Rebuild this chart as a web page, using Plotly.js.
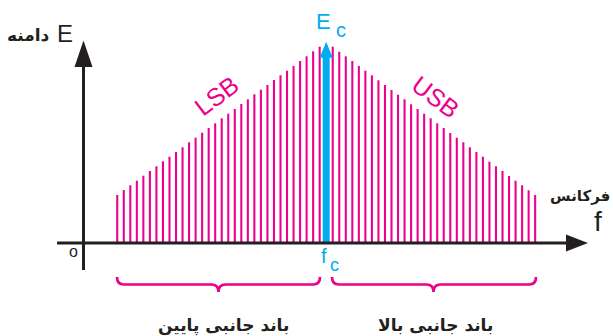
<!DOCTYPE html>
<html>
<head>
<meta charset="utf-8">
<script src="https://cdn.plot.ly/plotly-3.0.1.min.js"></script>
<style>
  html, body { margin: 0; padding: 0; background: #ffffff; }
  #chart { width: 613px; height: 336px; }
</style>
</head>
<body>
<div id="chart"></div>
<script>
// ---- data (frequency offset from the carrier, amplitude) ----
const lsbFreq = [-32,-31,-30,-29,-28,-27,-26,-25,-24,-23,-22,-21,-20,-19,-18,-17,-16,-15,-14,-13,-12,-11,-10,-9,-8,-7,-6,-5,-4,-3,-2,-1];
const lsbAmp = [48, 53, 57.7, 62.3, 67.3, 72, 76.7, 81.7, 86.3, 91, 95.7, 100.7, 105.3, 110.3, 115, 119.7, 124.7, 129.3, 134, 139, 143.7, 148.7, 153.3, 158, 163, 167.7, 172.3, 177, 182, 186.7, 191.7, 196.3];
const usbFreq = [1,2,3,4,5,6,7,8,9,10,11,12,13,14,15,16,17,18,19,20,21,22,23,24,25,26,27,28,29,30,31,32];
const usbAmp = [196.3, 191.3, 186.7, 182, 177, 172.3, 167.7, 162.7, 158, 153, 148.3, 143.7, 138.7, 134, 129.3, 124.7, 119.7, 115, 110, 105.3, 100.7, 95.7, 91, 86.3, 81.3, 76.7, 72, 67, 62.3, 57.7, 52.7, 48];
const carrierFreq = [0];
const carrierAmp = [201.3];

// ---- labels ----
const yLabel = "E";
const yLabelFa = "دامنه";
const xLabel = "f";
const xLabelFa = "فرکانس";
const lsbLabel = "LSB";
const usbLabel = "USB";
const lowerBandFa = "باند جانبی پایین";
const upperBandFa = "باند جانبی بالا";
const originLabel = "o";

// ---- styling ----
const PINK = "#ec008c";
const BLUE = "#00aeef";
const INK = "#231f20";
const W = 613, H = 336;
const px = x => x / W;
const py = y => 1 - y / H;
const LAT = "Liberation Sans, Arial, sans-serif";
const FA = "DejaVu Sans, sans-serif";

const headLen = 16;   // px (y units are px here)
const headHalf = 1.0; // x units

const traces = [
  { type: "bar", x: lsbFreq, y: lsbAmp, width: 0.32, marker: { color: PINK, line: { width: 0 } }, hoverinfo: "skip" },
  { type: "bar", x: usbFreq, y: usbAmp, width: 0.32, marker: { color: PINK, line: { width: 0 } }, hoverinfo: "skip" },
  { type: "bar", x: carrierFreq, y: carrierAmp.map(v => v - headLen + 2), width: 1.07, marker: { color: BLUE, line: { width: 0 } }, hoverinfo: "skip" }
];

function ann(text, x, y, size, color, family, extra) {
  return Object.assign({
    text: text, x: px(x), y: py(y), xref: "paper", yref: "paper",
    showarrow: false, xanchor: "center", yanchor: "middle",
    font: { size: size, color: color, family: family }
  }, extra || {});
}

function brace(x0, x1, xc, yTop, yMid, yBot) {
  const r = 7;
  const P = (x, y) => px(x) + "," + py(y);
  return "M" + P(x0, yTop) +
    " Q" + P(x0, yMid) + " " + P(x0 + r, yMid) +
    " L" + P(xc - r, yMid) +
    " Q" + P(xc, yMid) + " " + P(xc, yBot) +
    " Q" + P(xc, yMid) + " " + P(xc + r, yMid) +
    " L" + P(x1 - r, yMid) +
    " Q" + P(x1, yMid) + " " + P(x1, yTop);
}

const shapes = [
  // y axis with arrow
  { type: "line", xref: "paper", yref: "paper", x0: px(83.5), x1: px(83.5), y0: py(270), y1: py(62), line: { color: INK, width: 3 } },
  { type: "path", xref: "paper", yref: "paper", path: "M" + px(74.5) + "," + py(67) + " L" + px(92.5) + "," + py(67) + " L" + px(83.5) + "," + py(40.5) + " Z", fillcolor: INK, line: { width: 0 } },
  // x axis with arrow
  { type: "line", xref: "paper", yref: "paper", x0: px(57), x1: px(570), y0: py(243), y1: py(243), line: { color: INK, width: 3 } },
  { type: "path", xref: "paper", yref: "paper", path: "M" + px(566) + "," + py(234.5) + " L" + px(566) + "," + py(251.5) + " L" + px(588) + "," + py(243) + " Z", fillcolor: INK, line: { width: 0 } },
  // carrier arrowhead (from the carrier value)
  { type: "path", xref: "x", yref: "y", path: "M" + (carrierFreq[0] - headHalf) + "," + (carrierAmp[0] - headLen) + " L" + (carrierFreq[0] + headHalf) + "," + (carrierAmp[0] - headLen) + " L" + carrierFreq[0] + "," + carrierAmp[0] + " Z", fillcolor: BLUE, line: { width: 0 } },
  // braces
  { type: "path", xref: "paper", yref: "paper", path: brace(117, 320, 218.5, 277, 284.5, 292), line: { color: PINK, width: 2.7 } },
  { type: "path", xref: "paper", yref: "paper", path: brace(332, 536, 433.5, 277, 284.5, 292), line: { color: PINK, width: 2.7 } }
];

const annotations = [
  ann(yLabel, 65, 34, 24, INK, LAT),
  ann("<b>" + yLabelFa + "</b>", 28.5, 35, 17, INK, FA),
  ann("E", 323.5, 21, 22, BLUE, LAT),
  ann("c", 340.5, 30, 20, BLUE, LAT),
  ann(lsbLabel, 216, 96, 25, PINK, LAT, { textangle: -37 }),
  ann(usbLabel, 436, 97, 25, PINK, LAT, { textangle: 37 }),
  ann("<b>" + xLabelFa + "</b>", 612, 196, 15, INK, FA, { xanchor: "right" }),
  ann(xLabel, 597.5, 221, 28, INK, LAT),
  ann(originLabel, 73.5, 251.5, 16, INK, LAT),
  ann("f", 323.5, 255.5, 20, BLUE, LAT),
  ann("c", 334, 265, 18, BLUE, LAT),
  ann("<b>" + lowerBandFa + "</b>", 223, 325, 17, INK, FA),
  ann("<b>" + upperBandFa + "</b>", 435, 325, 17, INK, FA)
];

const layout = {
  width: W, height: H,
  margin: { l: 0, r: 0, t: 0, b: 0, pad: 0 },
  paper_bgcolor: "#ffffff", plot_bgcolor: "#ffffff",
  showlegend: false,
  barmode: "overlay",
  xaxis: { range: [-326.2 / 6.53, (W - 326.2) / 6.53], visible: false, fixedrange: true },
  yaxis: { range: [-93, 243], visible: false, fixedrange: true },
  shapes: shapes,
  annotations: annotations
};

Plotly.newPlot("chart", traces, layout, { staticPlot: true, displayModeBar: false });
</script>
</body>
</html>
